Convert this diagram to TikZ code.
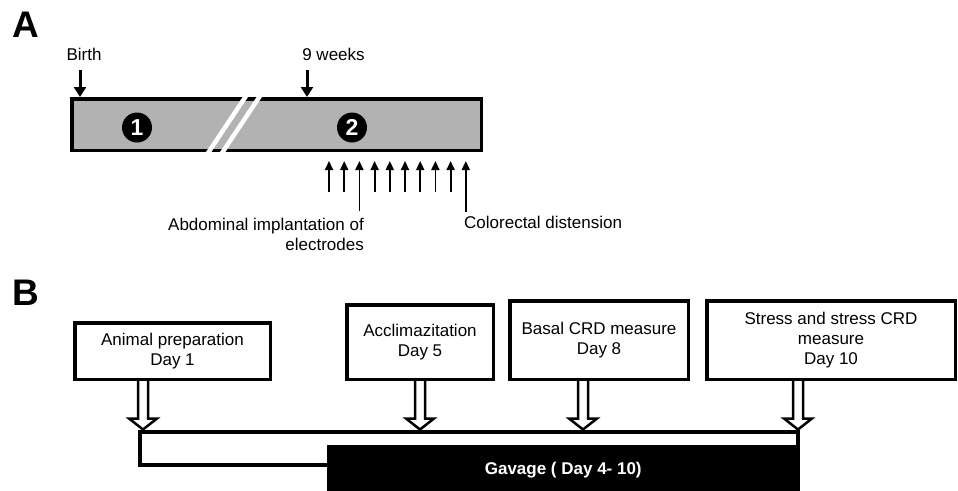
\documentclass[tikz,border=0pt]{standalone}
\usepackage{fontspec}
\setmainfont{Liberation Sans}
\usepackage{tikz}
\usetikzlibrary{arrows.meta}
\usetikzlibrary{calc}

\newcommand{\blockarrow}[2]{%
	\draw[line width=2.5pt,fill=white,line join=miter]
	let \p1=(#1.south -| #2), \p2=(#2 |- track.north) in
	(\x1-5pt,\y1) -- (\x1-5pt,\y2+11pt) -- (\x1-14pt,\y2+11pt) -- (\x2,\y2)
	-- (\x1+14pt,\y2+11pt) -- (\x1+5pt,\y2+11pt) -- (\x1+5pt,\y1);}

\begin{document}
\begin{tikzpicture}[x=1pt,y=-1pt,font=\fontsize{17}{20}\selectfont]
	\tikzstyle{lbl}=[inner sep=0pt]
	\tikzstyle{panel}=[inner sep=0pt,anchor=base west,font=\fontsize{37}{37}\selectfont\bfseries]
	\tikzstyle{period}=[rectangle,draw=black,fill=black!30,line width=3.5pt,inner sep=0pt]
	\tikzstyle{num}=[circle,fill=black,text=white,minimum size=30pt,inner sep=0pt,font=\fontsize{23}{23}\selectfont\bfseries]
	\tikzstyle{downarr}=[line width=3pt,-{Triangle[width=12pt,length=10pt]},shorten <=10pt]
	\tikzstyle{uparr}=[line width=1.8pt,-{Triangle[width=8pt,length=9pt]},shorten >=9pt]
	\tikzstyle{stage}=[rectangle,draw=black,fill=white,line width=3.5pt,align=center,inner sep=0pt]
	\tikzstyle{track}=[rectangle,draw=black,line width=4pt,inner sep=0pt]
	\tikzstyle{gav}=[rectangle,fill=black,text=white,inner sep=0pt,font=\fontsize{17}{20}\selectfont\bfseries]
	\useasboundingbox (0,0) rectangle (958,490);

	% A
	\node[panel] (pa) at (12,37) {A};
	\node[period,minimum width=409.5pt,minimum height=51.5pt] (bar) at (276.5,124.5) {};
	\begin{scope}
		\clip (60,96) rectangle (490,153);
		\draw[white,line width=4.5pt] (193.3,175) -- (260,75);
		\draw[white,line width=4.5pt] (207.3,175) -- (274,75);
	\end{scope}
	\node[num] (one) at (137,127.5) {1};
	\node[num] (two) at (352,127.5) {2};

	\node[lbl,anchor=base] (birth) at (84,60) {Birth};
	\node[lbl,anchor=base] (weeks) at (333.5,60) {9 weeks};
	\coordinate (bx) at (80,0);
	\coordinate (wx) at (307,0);
	\draw[downarr] (bx |- birth.south) -- (bx |- bar.north);
	\draw[downarr] (wx |- weeks.south) -- (wx |- bar.north);

	\foreach \i in {0,...,9}
		\coordinate (u\i) at ({329+15.2*\i},192);
	\node[lbl,anchor=north east,align=right] (abd) at (364,217.5) {Abdominal implantation of\\electrodes};
	\node[lbl,anchor=north west] (crd) at (464,215.5) {Colorectal distension};
	\foreach \i in {0,1,3,4,5,6,7,8}
		\draw[uparr] (u\i) -- (u\i |- bar.south);
	\draw[uparr,shorten <=7pt] (u2 |- abd.north) -- (u2 |- bar.south);
	\draw[uparr,shorten <=4pt] (u9 |- crd.north) -- (u9 |- bar.south);

	% B
	\node[panel] (pb) at (12,305) {B};
	\node[track,minimum width=657.5pt,minimum height=33.5pt] (track) at (468.75,448.25) {};
	\node[gav,minimum width=472.5pt,minimum height=50pt] (gavage) at (563.25,470) {Gavage ( Day 4- 10)};

	\node[stage,minimum width=195.5pt,minimum height=56.5pt] (prep) at (172.5,351) {Animal preparation\\Day 1};
	\node[stage,minimum width=146.5pt,minimum height=74.5pt] (accl) at (420,342) {Acclimazitation\\Day 5};
	\node[stage,minimum width=178.5pt,minimum height=78.5pt] (basal) at (599,340) {Basal CRD measure\\Day 8};
	\node[stage,minimum width=248.5pt,minimum height=78.5pt] (stress) at (831,340) {Stress and stress CRD\\measure\\Day 10};

	\coordinate (h1) at (143,0);
	\coordinate (h2) at (420,0);
	\coordinate (h3) at (583,0);
	\coordinate (h4) at (798,0);
	\blockarrow{prep}{h1}
	\blockarrow{accl}{h2}
	\blockarrow{basal}{h3}
	\blockarrow{stress}{h4}
\end{tikzpicture}
\end{document}
